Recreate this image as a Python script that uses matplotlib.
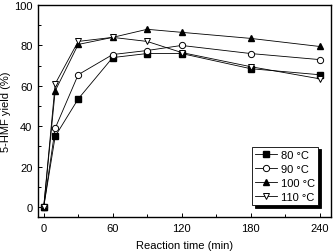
import numpy as np
import matplotlib
matplotlib.use('Agg')
import matplotlib.pyplot as plt

plt.rcParams['font.family'] = ['Liberation Sans', 'DejaVu Sans']

time_min = [0, 10, 30, 60, 90, 120, 180, 240]
yield_80 = [0, 35, 53.5, 74, 76, 76, 68.5, 65.5]
yield_90 = [0, 39, 65.5, 75.5, 77.5, 80, 76, 73]
yield_100 = [0, 57.5, 80.5, 84, 88, 86.5, 83.5, 79.5]
yield_110 = [0, 61, 82, 84, 82, 76.5, 69.5, 63.5]

fig = plt.figure(figsize=(3.33, 2.53), dpi=100)
ax = fig.add_axes([0.114, 0.138, 0.88, 0.838])

lw = 0.6
ms = 4.5
ax.plot(time_min, yield_80, '-s', color='black', lw=lw, ms=ms, mfc='black', label='80 °C')
ax.plot(time_min, yield_90, '-o', color='black', lw=lw, ms=ms, mfc='white', mew=0.7, label='90 °C')
ax.plot(time_min, yield_100, '-^', color='black', lw=lw, ms=ms, mfc='black', label='100 °C')
ax.plot(time_min, yield_110, '-v', color='black', lw=lw, ms=ms, mfc='white', mew=0.7, label='110 °C')

ax.set_xlim(-5, 250)
ax.set_ylim(-5, 100)
ax.set_xticks([0, 60, 120, 180, 240])
ax.set_xticks([30, 90, 150, 210], minor=True)
ax.set_yticks([0, 20, 40, 60, 80, 100])
ax.set_yticks([10, 30, 50, 70, 90], minor=True)
ax.tick_params(direction='in', which='both', labelsize=8, width=0.7)
ax.tick_params(which='major', length=3, pad=4)
ax.tick_params(which='minor', length=2)
for s in ax.spines.values():
    s.set_linewidth(1.0)

ax.set_xlabel('Reaction time (min)', fontsize=8, labelpad=5)
ax.set_ylabel('5-HMF yield (%)', fontsize=8, labelpad=2)

leg = ax.legend(loc='lower right', bbox_to_anchor=(0.956, 0.057), borderaxespad=0,
                fontsize=8, fancybox=False, shadow={'color': 'black', 'alpha': 1},
                edgecolor='black', framealpha=1, handlelength=2.0,
                labelspacing=0.35, borderpad=0.3, handletextpad=0.3)
leg.get_frame().set_linewidth(0.6)

fig.savefig('out.png', dpi=100)
